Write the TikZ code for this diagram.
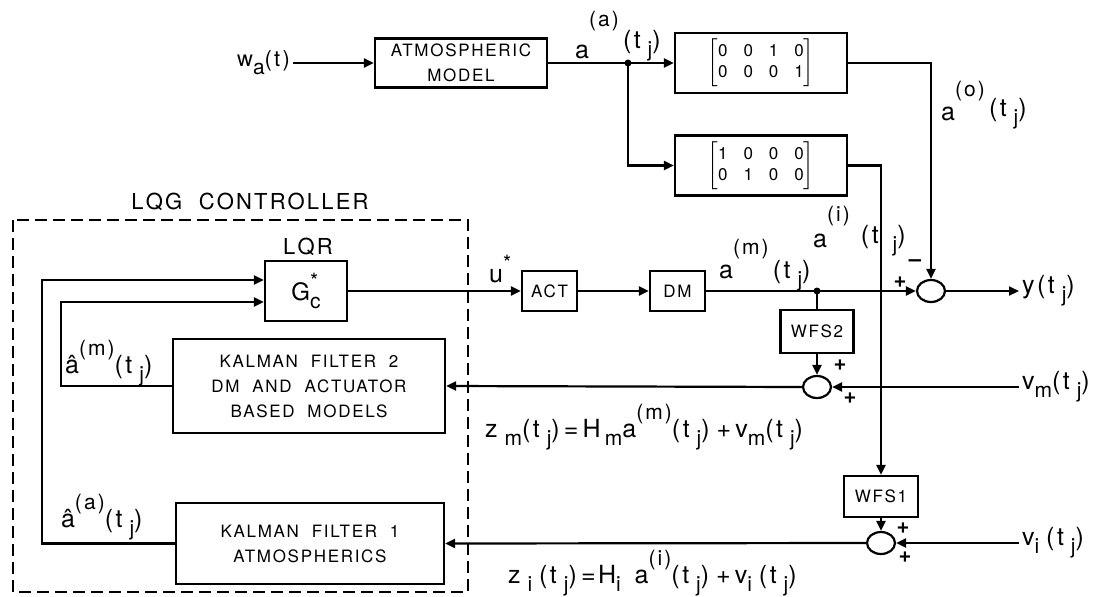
\documentclass[tikz,border=0pt]{standalone}
\usepackage{fontspec}
\setmainfont[LetterSpace=10]{TeX Gyre Heros}
\usetikzlibrary{arrows.meta, shapes.geometric}
\newcommand{\upsc}[2][10pt]{\raisebox{#1}{\fontsize{10.5}{12}\selectfont #2}}
\newcommand{\dnsc}[1]{\raisebox{-4pt}{\fontsize{10.5}{12}\selectfont #1}}
\begin{document}
\begin{tikzpicture}[
    x=0.5pt, y=-0.5pt,
    >={Triangle[length=5pt, width=4.5pt]},
    line width=1.1pt,
    arr/.style={->},
    blk/.style={draw, inner sep=0pt, align=center, font=\fontsize{8.5}{12.5}\selectfont},
    sumc/.style={draw, ellipse, minimum width=14pt, minimum height=11pt, inner sep=0pt},
    dot/.style={circle, fill, inner sep=0pt, minimum size=3.5pt},
    lbl/.style={inner sep=1pt, font=\fontsize{12.5}{14}\selectfont},
    sgn/.style={inner sep=0pt, font=\fontsize{11}{12}\selectfont\bfseries},
    ptitle/.style={font=\fontsize{11}{13}\selectfont},
    matx/.style={blk, minimum width=86pt, minimum height=30pt},
]
\useasboundingbox (0,0) rectangle (1116,596);
\setlength{\tabcolsep}{4pt}
\renewcommand{\arraystretch}{0.85}
% ============================================================
% TOP ROW: atmospheric model and the two selection matrices
% ============================================================
\node[lbl, anchor=east, font=\fontsize{11}{13}\selectfont] (wa) at (293,63) {w\dnsc{a}(t)};
\node[blk, minimum width=86pt, minimum height=24.5pt] (atm) at (461,63) {ATMOSPHERIC\\MODEL};
\node[dot] (j1) at (628,63) {};
\node[matx] (selo) at (761,63) {$\left[\begin{tabular}{@{}cccc@{}}0&0&1&0\\0&0&0&1\end{tabular}\right]$};
\node[matx] (seli) at (761,165.5) {$\left[\begin{tabular}{@{}cccc@{}}1&0&0&0\\0&1&0&0\end{tabular}\right]$};
\node[lbl, anchor=base west] (laa) at (572,58) {a\upsc[16pt]{(a)}\,\raisebox{5pt}{(t\;\dnsc{j})}};
\node[lbl, anchor=base west] (lao) at (938,120) {a\upsc[12pt]{(o)}\,\raisebox{2pt}{(t\;\dnsc{j})}};
% ============================================================
% LQG CONTROLLER: dashed frame, LQR gain, two Kalman filters
% ============================================================
\draw[dashed, dash pattern=on 6pt off 3pt, line width=0.8pt] (13,220) rectangle (468,592);
\node[ptitle] (tlqg) at (250,202) {LQG~~CONTROLLER};
\node[ptitle] (tlqr) at (308,247) {LQR};
\node[blk, minimum width=41pt, minimum height=30pt, font=\fontsize{12}{14}\selectfont] (gc) at (306,291) {G\rlap{\upsc[6pt]{*}}\dnsc{c}};
\node[blk, minimum width=136pt, minimum height=47pt] (kf2) at (309,386) {KALMAN~~FILTER~~2\\DM~~AND~~ACTUATOR\\BASED~~MODELS};
\node[blk, minimum width=134pt, minimum height=40.5pt] (kf1) at (310,543.5) {KALMAN~~FILTER~~1\\ATMOSPHERICS};
\node[lbl, anchor=base west] (lhm) at (62,373) {\^{a}\upsc[9pt]{(m)}(t\;\dnsc{j})};
\node[lbl, anchor=base west] (lha) at (58,527) {\^{a}\upsc[9pt]{(a)}(t\;\dnsc{j})};
\coordinate (c1) at (42,280);
\coordinate (c2) at (61,302);
% ============================================================
% PLANT: actuator, deformable mirror, sensors, summing points
% ============================================================
\node[blk, minimum width=27.5pt, minimum height=20pt] (act) at (549.5,291) {ACT};
\node[blk, minimum width=27.5pt, minimum height=20pt] (dm) at (677.5,291) {DM};
\node[lbl, anchor=base west] (lu) at (486,282) {u\upsc[6pt]{*}};
\node[dot] (j2) at (817,291) {};
\node[sumc] (s1) at (931,291) {};
\node[blk, minimum width=36.5pt, minimum height=21.5pt] (wfs2) at (817,331.5) {WFS2};
\node[sumc] (s2) at (817,387) {};
\node[blk, minimum width=37pt, minimum height=20.5pt] (wfs1) at (881,496.5) {WFS1};
\node[sumc] (s3) at (881,543) {};
\node[lbl, anchor=base west] (lam) at (716,278) {a\upsc[12pt]{(m)}\,(t\;\dnsc{j})};
\node[lbl, anchor=base west] (lai) at (810,247) {a\upsc[13pt]{(i)}\;\,\raisebox{2pt}{(t\;\;\dnsc{j})}};
\node[lbl, anchor=west] (yo) at (1019,291) {y(t\;\dnsc{j})};
\node[lbl, anchor=west] (vm) at (1019,387) {v\dnsc{m}(t\;\dnsc{j})};
\node[lbl, anchor=west] (vi) at (1019,543) {v\dnsc{i}\;(t\;\dnsc{j})};
\node[lbl, anchor=base west] (eqm) at (482,437) {z\;\dnsc{m}(t\;\dnsc{j})\,=\,H\,\dnsc{m}a\upsc[9pt]{(m)}(t\;\dnsc{j})\;+\,v\dnsc{m}(t\;\dnsc{j})};
\node[lbl, anchor=base west] (eqi) at (505,583) {z\;\dnsc{i}\;(t\;\dnsc{j})\,=H\dnsc{i}\;\;a\upsc[9pt]{(i)}(t\;\dnsc{j})\;+\,v\dnsc{i}\;(t\;\dnsc{j})};
% --- signs at the summing points ---
\node[sgn] at (900,282) {+};
\node[sgn] at (915,263) {--};
\node[sgn] at (840,365) {+};
\node[sgn] at (850,398) {+};
\node[sgn] at (903,528) {+};
\node[sgn] at (905,557) {+};
% ============================================================
% CONNECTORS
% ============================================================
\draw[arr] (wa.east) -- (atm.west);
\draw[arr] (atm.east) -- (selo.west);
\draw[arr] (j1.center) |- (seli.west);
\draw[arr] (selo.east) -| (s1.north);
\draw[arr] (seli.east) -| (wfs1.north);
\draw[arr] (gc.east) -- (act.west);
\draw[arr] (act.east) -- (dm.west);
\draw[arr] (dm.east) -- (s1.west);
\draw[arr] (s1.east) -- (yo.west);
\draw (j2.center) -- (wfs2.north);
\draw[arr] (wfs2.south) -- (s2.north);
\draw[arr] (vm.west) -- (s2.east);
\draw[arr] (s2.west) -- (kf2.east);
\draw[arr] (wfs1.south) -- (s3.north);
\draw[arr] (vi.west) -- (s3.east);
\draw[arr] (s3.west) -- (kf1.east);
\draw[arr] (kf2.west) -| (c2) -- (c2 -| gc.west);
\draw[arr] (kf1.west) -| (c1) -- (c1 -| gc.west);
\end{tikzpicture}
\end{document}
